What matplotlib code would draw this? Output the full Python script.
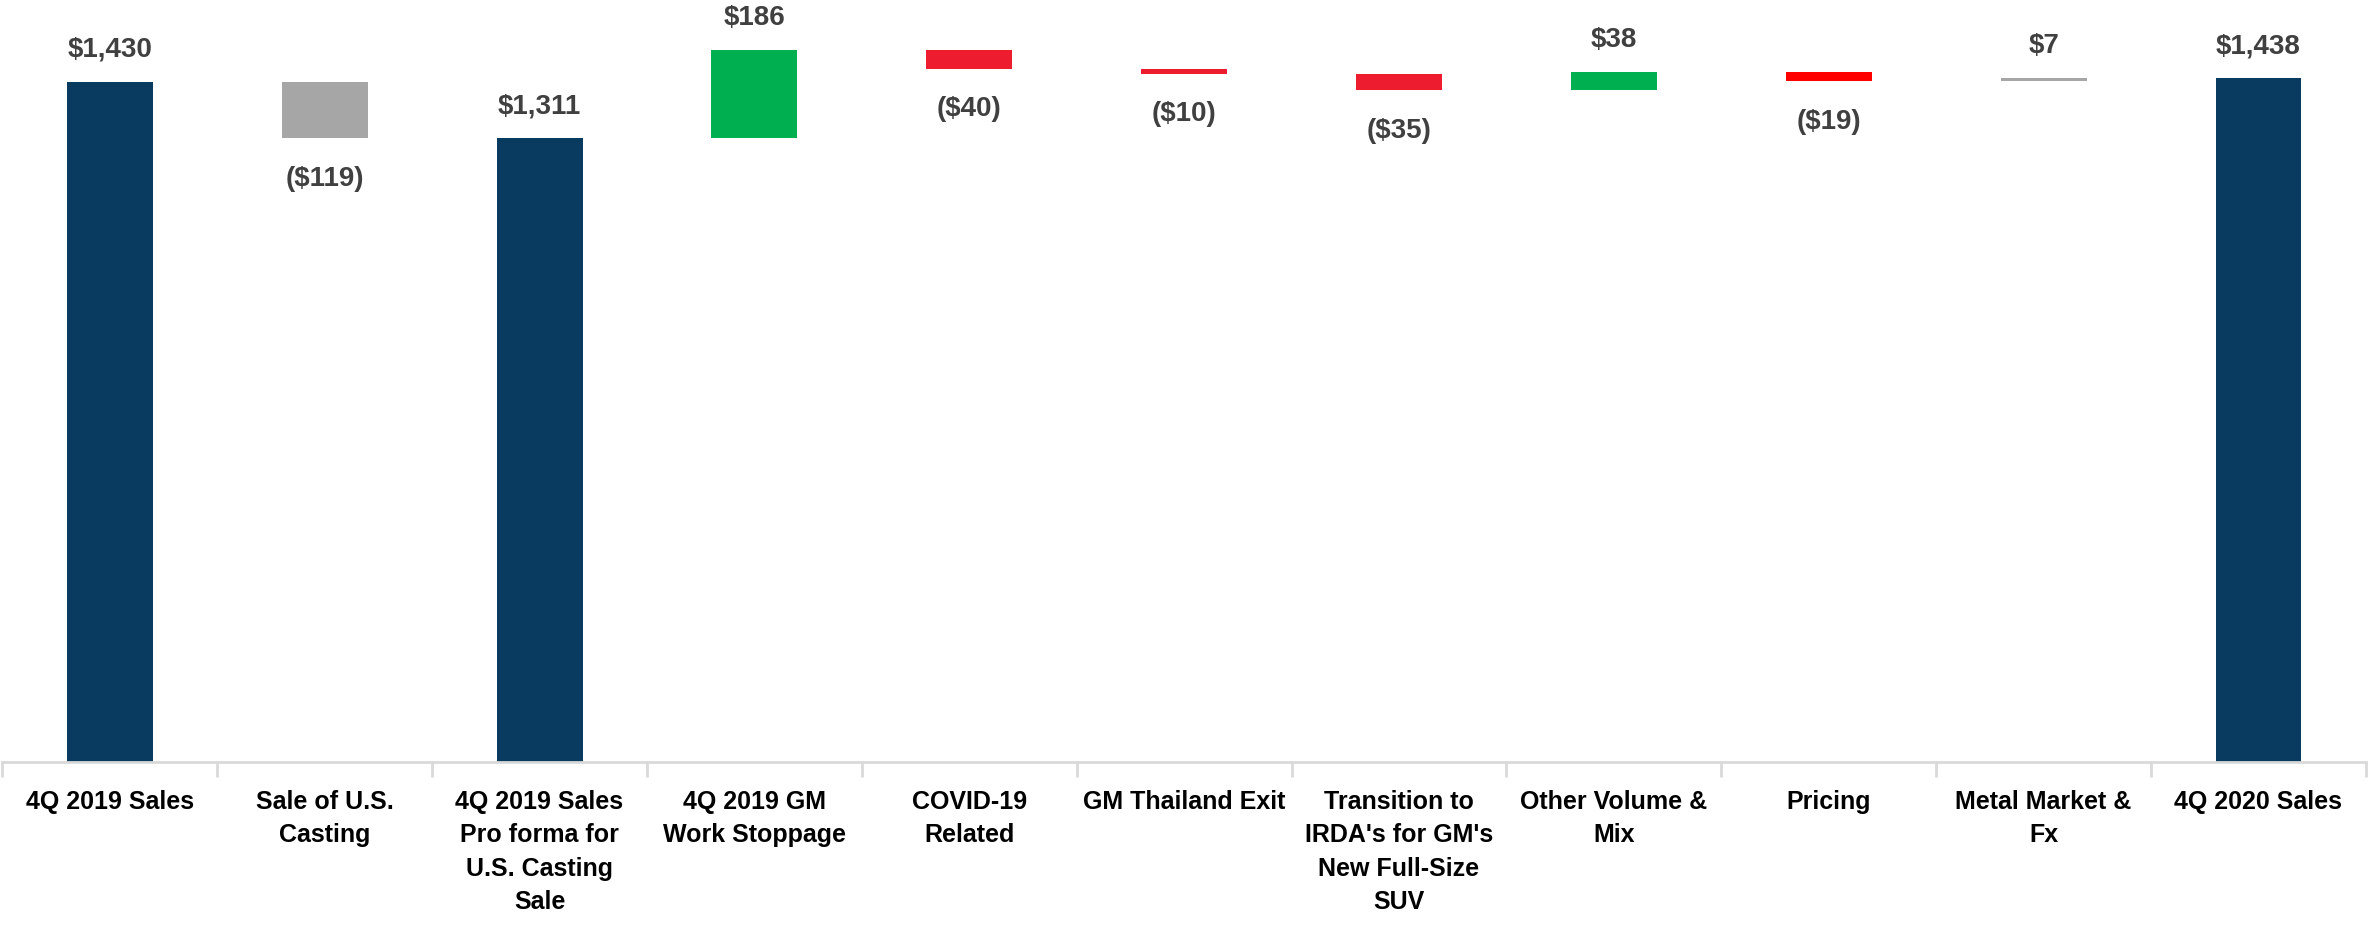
import numpy as np
import matplotlib.pyplot as plt

categories = ["4Q 2019 Sales", "Sale of U.S.\nCasting", "4Q 2019 Sales\nPro forma for\nU.S. Casting\nSale",
              "4Q 2019 GM\nWork Stoppage", "COVID-19\nRelated", "GM Thailand Exit",
              "Transition to\nIRDA's for GM's\nNew Full-Size\nSUV", "Other Volume &\nMix", "Pricing",
              "Metal Market &\nFx", "4Q 2020 Sales"]
values = [1430, -119, 1311, 186, -40, -10, -35, 38, -19, 7, 1438]
is_total = [True, False, True, False, False, False, False, False, False, False, True]
labels = ["$1,430", "($119)", "$1,311", "$186", "($40)", "($10)", "($35)", "$38", "($19)", "$7", "$1,438"]
colors = ["#083B5F", "#A6A6A6", "#083B5F", "#00B050", "#ED1C2E", "#ED1C2E", "#ED1C2E",
          "#00B050", "#FF0000", "#A6A6A6", "#083B5F"]

font = ['Liberation Sans Narrow', 'Liberation Sans', 'DejaVu Sans']
plt.rcParams['font.family'] = font

# waterfall bottoms/heights
bottoms = []
heights = []
running = 0
for v, t in zip(values, is_total):
    if t:
        bottoms.append(0)
        heights.append(v)
        running = v
    else:
        bottoms.append(min(running, running + v))
        heights.append(abs(v))
        running += v

fig = plt.figure(figsize=(23.74, 9.27), dpi=100)
ax = fig.add_axes([0.001, 0.178, 0.9956, 0.822])
x = np.arange(len(categories))
ax.bar(x, heights, bottom=bottoms, width=0.4, color=colors, zorder=2)

for i in range(len(values)):
    if values[i] >= 0:
        y = bottoms[i] + heights[i]
        off = 23
    else:
        y = bottoms[i]
        off = -29
    ax.annotate(labels[i], (x[i], y), xytext=(0, off), textcoords='offset points',
                ha='center', va='center', fontsize=20, fontweight='bold', color='#404040')

ax.set_xlim(-0.5, len(categories) - 0.5)
ax.set_ylim(0, 1602)
for s in ['top', 'right', 'left']:
    ax.spines[s].set_visible(False)
ax.spines['bottom'].set_color('#D9D9D9')
ax.spines['bottom'].set_linewidth(2)
ax.set_yticks([])
ax.set_xticks(x)
ax.set_xticklabels(categories, fontsize=18, fontweight='bold', color='black', linespacing=1.5, va='top')
ax.tick_params(axis='x', which='major', length=0, pad=20)
ax.set_xticks(np.arange(-0.5, len(categories)), minor=True)
ax.tick_params(axis='x', which='minor', length=11, width=2, color='#D9D9D9')

fig.savefig("out.png", dpi=100)
